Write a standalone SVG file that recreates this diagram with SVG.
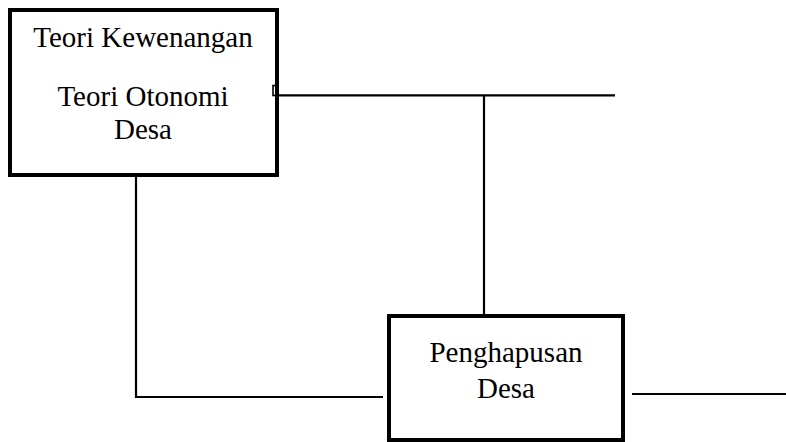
<svg xmlns="http://www.w3.org/2000/svg" width="786" height="442" viewBox="0 0 786 442">
  <style>
    .box { fill: #ffffff; stroke: #000000; stroke-width: 4; }
    .wire { fill: none; stroke: #000000; stroke-width: 2.2; }
    .label { font-family: "Liberation Serif", "Times New Roman", serif; font-size: 29px; fill: #000000; text-anchor: middle; }
  </style>
  <rect x="0" y="0" width="786" height="442" fill="#ffffff"/>

  <g id="node-teori">
    <rect class="box" x="10" y="10" width="267" height="165"/>
    <text class="label" x="143" y="47">Teori Kewenangan</text>
    <text class="label" x="143" y="106">Teori Otonomi</text>
    <text class="label" x="143" y="139">Desa</text>
  </g>

  <g id="node-penghapusan">
    <rect class="box" x="389" y="316" width="234" height="124"/>
    <text class="label" x="506" y="362">Penghapusan</text>
    <text class="label" x="506" y="398">Desa</text>
  </g>

  <!-- connectors drawn last so the small anchor tab sits on top of the box edge -->
  <g id="connectors">
    <polyline class="wire" points="136,177 136,397 383,397"/>
    <line class="wire" x1="277" y1="95.3" x2="615" y2="95.3"/>
    <line class="wire" x1="484" y1="95.3" x2="484" y2="314"/>
    <line class="wire" x1="632" y1="394" x2="786" y2="394"/>
    <rect x="273" y="85.5" width="3.5" height="10" fill="none" stroke="#000000" stroke-width="1.6"/>
  </g>
</svg>
